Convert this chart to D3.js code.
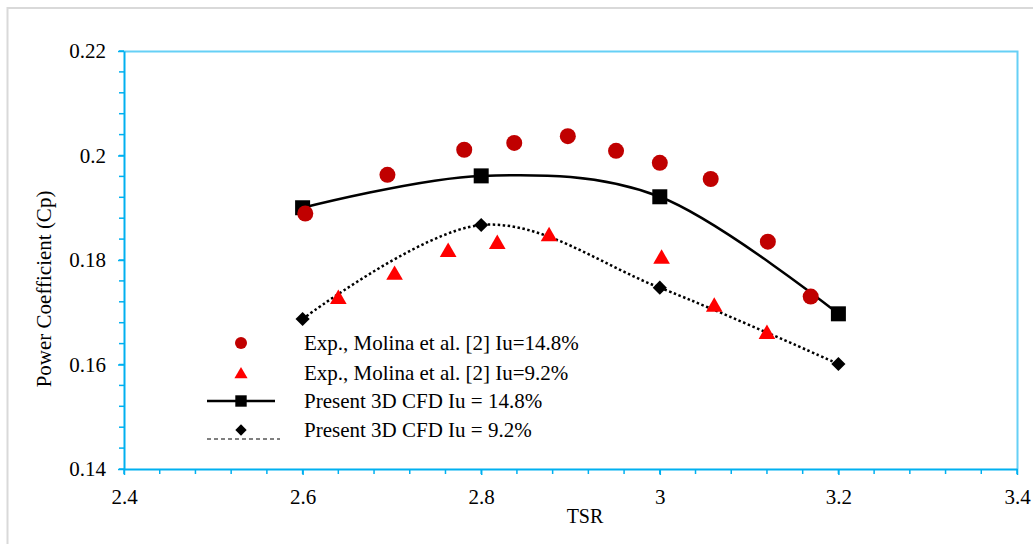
<!DOCTYPE html>
<html>
<head>
<meta charset="utf-8">
<script src="https://cdn.jsdelivr.net/npm/d3@7"></script>
<style>
  body { margin: 0; background: #fff; }
  svg text { font-family: "Liberation Serif", "Times New Roman", serif; fill: #000; }
</style>
</head>
<body>
<div id="chart"><svg width="1033" height="544"></svg></div>
<script>
// Data
let expHighTsr = [2.603, 2.695, 2.781, 2.837, 2.897, 2.951, 3.0, 3.057, 3.121, 3.169];
let expHighCp = [0.1889, 0.1963, 0.2011, 0.2024, 0.2037, 0.2009, 0.1986, 0.1955, 0.1835, 0.1730];

let expLowTsr = [2.640, 2.703, 2.763, 2.818, 2.876, 3.002, 3.061, 3.120];
let expLowCp = [0.1729, 0.1775, 0.1819, 0.1834, 0.1849, 0.1806, 0.1714, 0.1662];

let cfdTsr = [2.6, 2.8, 3.0, 3.2];
let cfdHighCp = [0.1900, 0.1961, 0.1921, 0.1697];
let cfdLowCp = [0.1687, 0.1867, 0.1747, 0.1601];

let xTicks = [2.4, 2.6, 2.8, 3.0, 3.2, 3.4];
let yTicks = [0.14, 0.16, 0.18, 0.2, 0.22];

let legendLabels = [
  "Exp., Molina et al. [2] Iu=14.8%",
  "Exp., Molina et al. [2] Iu=9.2%",
  "Present 3D CFD Iu = 14.8%",
  "Present 3D CFD Iu = 9.2%"
];

// Global variables
let svg = d3.select("div#chart svg"),
  margin = { top: 51, right: 16, bottom: 75, left: 124 },
  width = 1033 - margin.left - margin.right,
  height = 544 - margin.top - margin.bottom,
  g = svg.append("g").attr("transform", "translate(" + margin.left + "," + margin.top + ")");

let serif = '"Liberation Serif", "Times New Roman", serif';

let colors = {
  axis: "#00b0f0",
  frame: "#d9d9d9",
  expHigh: "#c00000",
  expLow: "#ff0000",
  cfd: "#000000"
};

let x = d3.scaleLinear().domain([2.4, 3.4]).range([0, width]);
let y = d3.scaleLinear().domain([0.14, 0.22]).range([height, 0]);

// Outer chart frame
svg.append("rect")
  .attr("x", 7.5)
  .attr("y", 8)
  .attr("width", 1040)
  .attr("height", 540)
  .attr("fill", "none")
  .attr("stroke", colors.frame)
  .attr("stroke-width", 2);

// Top and right plot borders
g.append("path")
  .attr("d", "M0,0.5H" + (width + 0.5) + "V" + height)
  .attr("fill", "none")
  .attr("stroke", colors.axis)
  .attr("stroke-opacity", 0.6)
  .attr("stroke-width", 2);

// Minor ticks
let xMinor = d3.range(2.4, 3.4001, 0.04);
let yMinor = d3.range(0.14, 0.22001, 0.004);

g.append("g")
  .attr("class", "minor-x")
  .selectAll("line")
  .data(xMinor)
  .enter()
  .append("line")
  .attr("x1", d => x(d)).attr("x2", d => x(d))
  .attr("y1", height).attr("y2", height + 5)
  .attr("stroke", colors.axis)
  .attr("stroke-width", 1.5);

g.append("g")
  .attr("class", "minor-y")
  .selectAll("line")
  .data(yMinor)
  .enter()
  .append("line")
  .attr("x1", -5).attr("x2", 0)
  .attr("y1", d => y(d)).attr("y2", d => y(d))
  .attr("stroke", colors.axis)
  .attr("stroke-width", 1.5);

// X axis
let xAxis = g.append("g")
  .attr("class", "axis axis_x")
  .attr("transform", "translate(0," + height + ")")
  .call(d3.axisBottom(x).tickValues(xTicks).tickSize(6).tickSizeOuter(0).tickPadding(14)
    .tickFormat(d => d3.format("~g")(d)));
xAxis.attr("font-family", null);
xAxis.select(".domain").attr("stroke", colors.axis).attr("stroke-width", 2);
xAxis.selectAll(".tick line").attr("stroke", colors.axis).attr("stroke-width", 1.5);
xAxis.selectAll(".tick text").style("font-size", "21px").style("font-family", serif);

// Y axis
let yAxis = g.append("g")
  .attr("class", "axis axis_y")
  .call(d3.axisLeft(y).tickValues(yTicks).tickSize(6).tickSizeOuter(0).tickPadding(12)
    .tickFormat(d => d3.format("~g")(d)));
yAxis.attr("font-family", null);
yAxis.select(".domain").attr("stroke", colors.axis).attr("stroke-width", 2);
yAxis.selectAll(".tick line").attr("stroke", colors.axis).attr("stroke-width", 1.5);
yAxis.selectAll(".tick text").style("font-size", "21px").style("font-family", serif);

// Axis titles
svg.append("text")
  .attr("x", 585)
  .attr("y", 523)
  .style("font-size", "20px")
  .style("text-anchor", "middle")
  .text("TSR");

svg.append("text")
  .attr("transform", "translate(51,289) rotate(-90)")
  .style("font-size", "21px")
  .style("text-anchor", "middle")
  .text("Power Coefficient (Cp)");

// Smoothed CFD lines
let line = d3.line()
  .x(d => x(d[0]))
  .y(d => y(d[1]))
  .curve(d3.curveCardinal.tension(0));

let cfdHigh = cfdTsr.map((t, i) => [t, cfdHighCp[i]]);
let cfdLow = cfdTsr.map((t, i) => [t, cfdLowCp[i]]);

g.append("path")
  .datum(cfdHigh)
  .attr("d", line)
  .attr("fill", "none")
  .attr("stroke", colors.cfd)
  .attr("stroke-width", 2.5);

g.append("path")
  .datum(cfdLow)
  .attr("d", line)
  .attr("fill", "none")
  .attr("stroke", colors.cfd)
  .attr("stroke-width", 2.5)
  .attr("stroke-dasharray", "2.5,2.5");

// Marker symbols
let symCircle = size => d3.symbol().type(d3.symbolCircle).size(size);
let symTriangle = size => d3.symbol().type(d3.symbolTriangle).size(size);
let symSquare = size => d3.symbol().type(d3.symbolSquare).size(size);
let symDiamond = size => d3.symbol().type(d3.symbolSquare).size(size);

// CFD markers
g.append("g")
  .selectAll("path")
  .data(cfdHigh)
  .enter()
  .append("path")
  .attr("transform", d => "translate(" + x(d[0]) + "," + y(d[1]) + ")")
  .attr("d", symSquare(225))
  .attr("fill", colors.cfd);

g.append("g")
  .selectAll("path")
  .data(cfdLow)
  .enter()
  .append("path")
  .attr("transform", d => "translate(" + x(d[0]) + "," + y(d[1]) + ") rotate(45)")
  .attr("d", symDiamond(100))
  .attr("fill", colors.cfd);

// Experimental markers
g.append("g")
  .selectAll("path")
  .data(expHighTsr.map((t, i) => [t, expHighCp[i]]))
  .enter()
  .append("path")
  .attr("transform", d => "translate(" + x(d[0]) + "," + y(d[1]) + ")")
  .attr("d", symCircle(Math.PI * 64))
  .attr("fill", colors.expHigh);

g.append("g")
  .selectAll("path")
  .data(expLowTsr.map((t, i) => [t, expLowCp[i]]))
  .enter()
  .append("path")
  .attr("transform", d => "translate(" + x(d[0]) + "," + (y(d[1]) + 2) + ")")
  .attr("d", symTriangle(120))
  .attr("fill", colors.expLow);

// Legend
let legend = svg.append("g").attr("class", "legend");
let legendRows = [343, 373, 401, 430];
let markerX = 241, textX = 304;

legend.append("path")
  .attr("transform", "translate(" + markerX + "," + legendRows[0] + ")")
  .attr("d", symCircle(Math.PI * 36))
  .attr("fill", colors.expHigh);

legend.append("path")
  .attr("transform", "translate(" + markerX + "," + (legendRows[1] + 1.5) + ")")
  .attr("d", symTriangle(75))
  .attr("fill", colors.expLow);

legend.append("line")
  .attr("x1", 207).attr("x2", 275)
  .attr("y1", legendRows[2]).attr("y2", legendRows[2])
  .attr("stroke", colors.cfd)
  .attr("stroke-width", 2.5);

legend.append("path")
  .attr("transform", "translate(" + markerX + "," + legendRows[2] + ")")
  .attr("d", symSquare(130))
  .attr("fill", colors.cfd);

legend.append("path")
  .attr("transform", "translate(" + markerX + "," + legendRows[3] + ") rotate(45)")
  .attr("d", symDiamond(64))
  .attr("fill", colors.cfd);

legend.append("line")
  .attr("x1", 207).attr("x2", 280)
  .attr("y1", legendRows[3] + 9).attr("y2", legendRows[3] + 9)
  .attr("stroke", colors.cfd)
  .attr("stroke-width", 1)
  .attr("stroke-dasharray", "4,3");

legendLabels.forEach((label, i) => {
  legend.append("text")
    .attr("x", textX)
    .attr("y", legendRows[i])
    .attr("dy", "0.35em")
    .style("font-size", "21px")
    .text(label);
});
</script>
</body>
</html>
